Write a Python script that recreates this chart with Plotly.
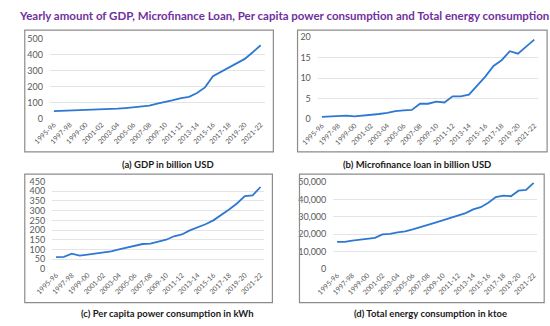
import plotly.graph_objects as go

W, H = 550, 326

years = ["1995-96", "1996-97", "1997-98", "1998-99", "1999-00", "2000-01", "2001-02",
         "2002-03", "2003-04", "2004-05", "2005-06", "2006-07", "2007-08", "2008-09",
         "2009-10", "2010-11", "2011-12", "2012-13", "2013-14", "2014-15", "2015-16",
         "2016-17", "2017-18", "2018-19", "2019-20", "2020-21", "2021-22"]

gdp = [46, 48, 50, 51, 52, 53, 54, 57, 61, 65, 70, 72, 80, 92, 102, 115, 128, 135,
       160, 195, 265, 293, 321, 350, 374, 416, 460]

microfinance = [0.6, 0.7, 0.7, 0.9, 0.7, 0.9, 1.0, 1.3, 1.6, 2.0, 2.2, 2.3, 3.8, 3.8,
                4.3, 4.1, 5.6, 5.6, 6.0, 8.2, 10.4, 13.0, 14.4, 16.6, 16.0, 17.7, 19.4]

per_capita_power = [60, 62, 78, 68, 73, 78, 85, 90, 100, 110, 118, 128, 130, 140, 150,
                    168, 177, 198, 213, 230, 250, 276, 306, 337, 375, 379, 422]

total_energy = [15700, 15700, 16400, 17000, 17600, 18000, 20000, 20200, 21100, 21700,
                22800, 24300, 25400, 26700, 28000, 29500, 30700, 32200, 34300, 35600,
                38200, 41400, 42300, 41900, 45100, 45500, 49600]

title_text = "Yearly amount of GDP, Microfinance Loan, Per capita power consumption and Total energy consumption"
captions = ["(a) GDP in billion USD", "(b) Microfinance loan in billion USD",
            "(c) Per capita power consumption in kWh", "(d) Total energy consumption in ktoe"]

y_ranges = [[0, 500], [0, 20], [0, 450], [0, 50000]]
y_dticks = [100, 5, 50, 10000]

# pixel layout (left, right, top, bottom)
plot_px = [(33, 255, 34, 116.3), (310, 538, 32.3, 117.3),
           (35.3, 254.8, 181.7, 272), (326, 537, 182.3, 272.3)]
box_px = [(7, 264, 25, 151), (289, 547, 25, 151), (7, 263, 174, 307), (291, 544, 174, 307)]
caption_px = [(155, 164), (413, 164), (155, 318), (426, 318)]

LINE = "#2E78D2"
FONT = "Lato"

fig = go.Figure()
x_idx = list(range(len(years)))
series = [gdp, microfinance, per_capita_power, total_energy]

def px_x(v):
    return v / W

def px_y(v):
    return 1 - v / H

for i, vals in enumerate(series):
    n = "" if i == 0 else str(i + 1)
    fig.add_trace(go.Scatter(x=x_idx, y=vals, mode="lines",
                             line=dict(color=LINE, width=1.8),
                             xaxis="x" + n, yaxis="y" + n, showlegend=False,
                             hoverinfo="skip"))
    l, r, t, b = plot_px[i]
    fig.layout["xaxis" + n] = dict(
        domain=[px_x(l), px_x(r)], anchor="y" + n, range=[-0.5, len(years) - 0.5],
        tickmode="array", tickvals=x_idx[::2], ticktext=years[::2], tickangle=-45,
        tickfont=dict(family=FONT, size=7, color="#595959"), showgrid=False,
        zeroline=False, showline=False, ticks="")
    fig.layout["yaxis" + n] = dict(
        domain=[px_y(b), px_y(t)], anchor="x" + n, range=y_ranges[i], dtick=y_dticks[i],
        tickformat=",d", tickfont=dict(family=FONT, size=9, color="#595959"),
        showgrid=True, gridcolor="#E4E4E4", gridwidth=1, zeroline=False,
        showline=False, ticks="", ticklabelstandoff=6)

shapes = []
for (l, r, t, b) in box_px:
    shapes.append(dict(type="rect", xref="paper", yref="paper",
                       x0=px_x(l), x1=px_x(r), y0=px_y(b), y1=px_y(t),
                       line=dict(color="#8C8C8C", width=1.2), fillcolor="rgba(0,0,0,0)"))

annotations = [dict(text="<b>" + title_text + "</b>", xref="paper", yref="paper",
                    x=px_x(275), y=px_y(10), xanchor="center", yanchor="middle",
                    showarrow=False, font=dict(family=FONT, size=11.5, color="#7030A0"))]
for cap, (cx, cy) in zip(captions, caption_px):
    annotations.append(dict(text="<b>" + cap + "</b>", xref="paper", yref="paper",
                            x=px_x(cx), y=px_y(cy), xanchor="center", yanchor="middle",
                            showarrow=False, font=dict(family=FONT, size=9.5, color="#1A1A1A")))

fig.update_layout(width=W, height=H, autosize=False,
                  margin=dict(l=0, r=0, t=0, b=0),
                  paper_bgcolor="white", plot_bgcolor="white",
                  shapes=shapes, annotations=annotations)

fig.write_html("out.html", config={"displayModeBar": False},
               post_script="document.body.style.margin='0';document.body.style.padding='0';")
